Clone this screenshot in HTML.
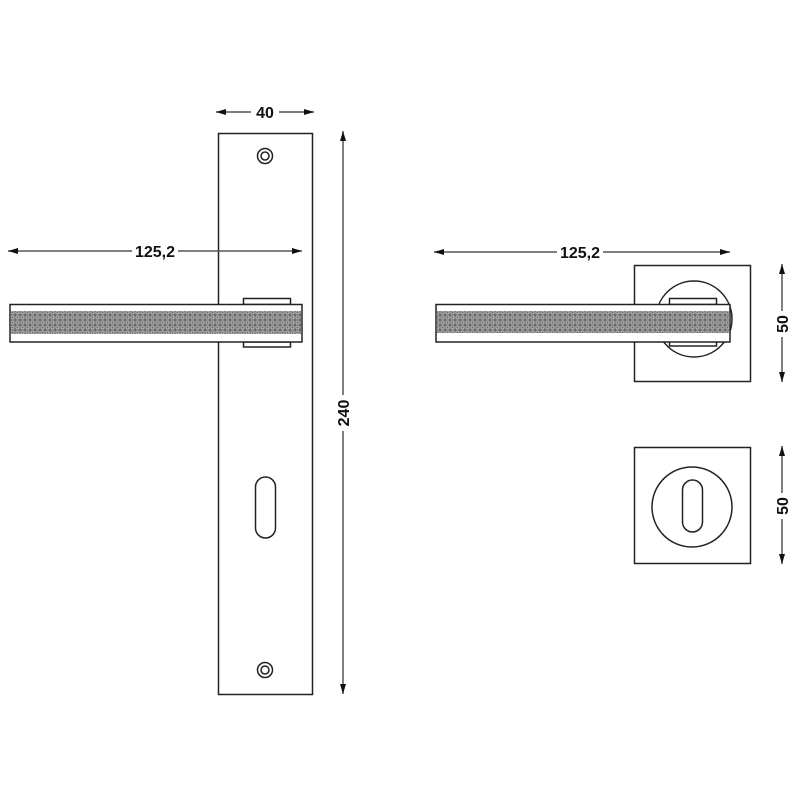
<!DOCTYPE html>
<html><head><meta charset="utf-8"><style>html,body{margin:0;padding:0;background:#fff}svg{display:block}</style></head>
<body>
<svg width="800" height="800" viewBox="0 0 800 800" xmlns="http://www.w3.org/2000/svg">
<defs>
<pattern id="tex" width="5" height="5" patternUnits="userSpaceOnUse">
<rect width="5" height="5" fill="#6e6e6e"/>
<circle cx="2.5" cy="2.5" r="1.6" fill="none" stroke="#c8c8c8" stroke-width="0.8"/>
</pattern>
<marker id="ar" viewBox="0 0 10 6" refX="10" refY="3" markerWidth="10" markerHeight="6" orient="auto-start-reverse" markerUnits="userSpaceOnUse">
<path d="M0,0 L10,3 L0,6 Z" fill="#111"/>
</marker>
</defs>
<g fill="none" stroke="#222" stroke-width="1.5">
<!-- plate -->
<rect x="218.5" y="133.5" width="94" height="561" fill="#fff"/>
<circle cx="265" cy="156" r="7.5"/><circle cx="265" cy="156" r="4"/>
<circle cx="265" cy="670" r="7.5"/><circle cx="265" cy="670" r="4"/>
<rect x="255.5" y="477" width="20" height="61" rx="10"/>
<!-- left handle -->
<rect x="243.5" y="298.5" width="47" height="6"/>
<rect x="243.5" y="342" width="47" height="5"/>
<rect x="10" y="304.5" width="292" height="37.5" fill="#fff"/>
<rect x="11" y="311" width="290" height="23" fill="url(#tex)" stroke="none"/>
<!-- right rosette -->
<rect x="634.5" y="265.5" width="116" height="116"/>
<circle cx="694" cy="319" r="38" fill="#fff"/>
<rect x="669.5" y="298.5" width="47" height="6"/>
<rect x="669.5" y="337" width="47" height="9"/>
<rect x="436" y="304.5" width="294" height="37.5" fill="#fff"/>
<rect x="437" y="311" width="292" height="22" fill="url(#tex)" stroke="none"/>
<!-- key rosette -->
<rect x="634.5" y="447.5" width="116" height="116"/>
<circle cx="692" cy="507" r="40"/>
<rect x="682.5" y="480" width="20" height="52" rx="10"/>
</g>
<g stroke="#555" stroke-width="1.5" fill="none">
<line x1="216" y1="112" x2="314" y2="112" marker-start="url(#ar)" marker-end="url(#ar)"/>
<line x1="343" y1="131" x2="343" y2="694" marker-start="url(#ar)" marker-end="url(#ar)"/>
<line x1="8" y1="251" x2="302" y2="251" marker-start="url(#ar)" marker-end="url(#ar)"/>
<line x1="434" y1="252" x2="730" y2="252" marker-start="url(#ar)" marker-end="url(#ar)"/>
<line x1="782" y1="264" x2="782" y2="382" marker-start="url(#ar)" marker-end="url(#ar)"/>
<line x1="782" y1="446" x2="782" y2="564" marker-start="url(#ar)" marker-end="url(#ar)"/>
</g>
<g font-family="Liberation Sans, sans-serif" font-weight="bold" font-size="16" fill="#111" text-anchor="middle">
<rect x="251" y="102" width="28" height="18" fill="#fff"/>
<text x="265" y="118">40</text>
<rect x="132" y="242" width="46" height="18" fill="#fff"/>
<text x="155" y="257">125,2</text>
<rect x="557" y="243" width="46" height="18" fill="#fff"/>
<text x="580" y="258">125,2</text>
<rect x="334" y="395" width="18" height="36" fill="#fff"/>
<text transform="translate(349,413) rotate(-90)">240</text>
<rect x="773" y="311" width="18" height="26" fill="#fff"/>
<text transform="translate(788,324) rotate(-90)">50</text>
<rect x="773" y="493" width="18" height="26" fill="#fff"/>
<text transform="translate(788,506) rotate(-90)">50</text>
</g>
</svg>
</body></html>
